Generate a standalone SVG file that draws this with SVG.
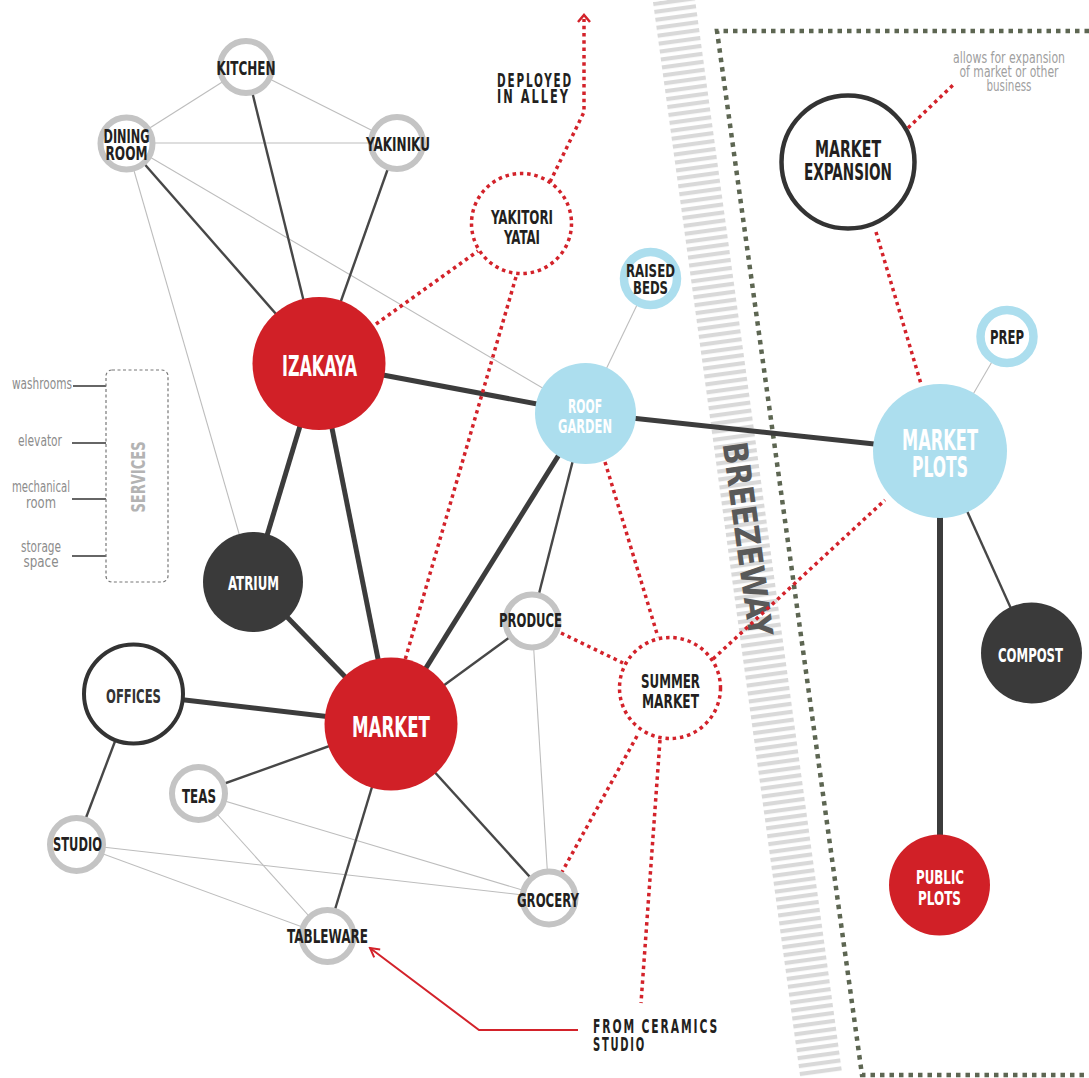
<svg xmlns="http://www.w3.org/2000/svg" width="1089" height="1078" viewBox="0 0 1089 1078">
<defs>
<pattern id="stripes" patternUnits="userSpaceOnUse" width="42" height="8"><rect x="0" y="0" width="42" height="4.2" fill="#d9d9d9"/></pattern>
<marker id="chev" viewBox="0 0 12 12" refX="10" refY="6" markerWidth="12" markerHeight="12" markerUnits="userSpaceOnUse" orient="auto"><path d="M1,1 L10,6 L1,11" fill="none" stroke="#d3222a" stroke-width="2"/></marker>
</defs>
<style>
.lbl{font-family:"Liberation Sans Narrow","DejaVu Sans Condensed","Liberation Sans",sans-serif;font-weight:bold;text-anchor:middle;fill:#231f20}
.w{fill:#ffffff}
.note{font-family:"Liberation Sans Narrow","DejaVu Sans Condensed","Liberation Sans",sans-serif;fill:#8c8c8c;text-anchor:middle}
.thin{stroke:#bdbdbd;stroke-width:1.1;fill:none}
.med{stroke:#474747;stroke-width:2.4;fill:none}
.thick{stroke:#3c3c3c;stroke-width:5;fill:none}
.rdot{stroke:#d3222a;stroke-width:3.5;stroke-dasharray:3.5 3.8;fill:none}
.ring{fill:#ffffff;stroke:#c4c4c4;stroke-width:6}
.bring{fill:#ffffff;stroke:#acdeee;stroke-width:8.5}
.red{fill:#d12027}
.blue{fill:#acdeee}
.dark{fill:#3a3a3a}
.black{fill:#ffffff;stroke:#333333}
.dcirc{fill:#ffffff;stroke:#d3222a;stroke-width:3.5;stroke-dasharray:3.5 3.8}
.sp{text-anchor:start;letter-spacing:3px}
</style>
<rect width="1089" height="1078" fill="#ffffff"/>

<!-- Breezeway band -->
<g id="breezeway" transform="translate(653,2) rotate(-7.8)">
<rect x="0" y="0" width="42" height="1085" fill="url(#stripes)"/>
<text transform="translate(21,545) rotate(90)" y="12" class="lbl" style="fill:#595959" font-size="34" textLength="196" lengthAdjust="spacingAndGlyphs">BREEZEWAY</text>
</g>

<!-- site boundary -->
<polyline id="boundary" points="1089,31 717,31 862,1075 1089,1075" fill="none" stroke="#5d6652" stroke-width="4.5" stroke-dasharray="4.5 5"/>

<!-- connectors -->
<g id="connectors">
<line class="thin" x1="246" y1="67" x2="126" y2="143"/>
<line class="thin" x1="246" y1="67" x2="397" y2="143"/>
<line class="thin" x1="126" y1="143" x2="397" y2="143"/>
<line class="thin" x1="126" y1="143" x2="585" y2="413"/>
<line class="thin" x1="126" y1="143" x2="253" y2="582"/>
<line class="thin" x1="650" y1="278" x2="585" y2="413"/>
<line class="thin" x1="532" y1="621" x2="549" y2="898"/>
<line class="thin" x1="198" y1="793" x2="549" y2="898"/>
<line class="thin" x1="198" y1="793" x2="327" y2="936"/>
<line class="thin" x1="76" y1="844" x2="549" y2="898"/>
<line class="thin" x1="76" y1="844" x2="327" y2="936"/>
<line class="thin" x1="1007" y1="336" x2="940" y2="451"/>

<line class="med" x1="246" y1="67" x2="319" y2="363"/>
<line class="med" x1="126" y1="143" x2="319" y2="363"/>
<line class="med" x1="397" y1="143" x2="319" y2="363"/>
<line class="med" x1="585" y1="413" x2="532" y2="621"/>
<line class="med" x1="391" y1="724" x2="532" y2="621"/>
<line class="med" x1="391" y1="724" x2="198" y2="793"/>
<line class="med" x1="391" y1="724" x2="327" y2="936"/>
<line class="med" x1="391" y1="724" x2="549" y2="898"/>
<line class="med" x1="133" y1="694" x2="76" y2="844"/>
<line class="med" x1="940" y1="451" x2="1031" y2="653"/>

<line class="thick" x1="319" y1="363" x2="585" y2="413"/>
<line class="thick" x1="585" y1="413" x2="940" y2="451"/>
<line class="thick" x1="319" y1="363" x2="253" y2="582"/>
<line class="thick" x1="319" y1="363" x2="391" y2="724"/>
<line class="thick" x1="253" y1="582" x2="391" y2="724"/>
<line class="thick" x1="585" y1="413" x2="391" y2="724"/>
<line class="thick" x1="133" y1="694" x2="391" y2="724"/>
<line class="thick" x1="940" y1="451" x2="940" y2="885" style="stroke-width:6"/>

<line class="rdot" x1="376" y1="324" x2="478" y2="251"/>
<line class="rdot" x1="518" y1="270" x2="405" y2="660"/>
<polyline class="rdot" points="550,182 584,112 584,19"/>
<path d="M578,22 L584,15 L590,22" fill="none" stroke="#d3222a" stroke-width="2.5"/>
<line class="rdot" x1="605" y1="462" x2="658" y2="637"/>
<line class="rdot" x1="561" y1="633" x2="623" y2="663"/>
<line class="rdot" x1="713" y1="659" x2="885" y2="500"/>
<line class="rdot" x1="637" y1="736" x2="562" y2="872"/>
<line class="rdot" x1="660" y1="740" x2="641" y2="1003"/>
<line class="rdot" x1="876" y1="232" x2="921" y2="384"/>
<line class="rdot" x1="908" y1="128" x2="953" y2="85"/>

<polyline points="578,1030 479,1030 370,948" fill="none" stroke="#d3222a" stroke-width="2" marker-end="url(#chev)"/>

<!-- services ties -->
<line x1="73" y1="386" x2="106" y2="386" stroke="#666" stroke-width="2"/>
<line x1="72" y1="443" x2="106" y2="443" stroke="#666" stroke-width="2"/>
<line x1="72" y1="499" x2="106" y2="499" stroke="#666" stroke-width="2"/>
<line x1="72" y1="556" x2="106" y2="556" stroke="#666" stroke-width="2"/>
</g>

<!-- services -->
<g id="services">
<rect x="106" y="370" width="62" height="212" rx="6" fill="none" stroke="#777" stroke-width="1.2" stroke-dasharray="3 2.5"/>
<text transform="translate(137,477) rotate(-90)" y="7.5" class="lbl" style="fill:#b3b3b3" font-size="20" textLength="71" lengthAdjust="spacingAndGlyphs">SERVICES</text>
<text x="42" y="389" class="note" font-size="15" textLength="60" lengthAdjust="spacingAndGlyphs">washrooms</text>
<text x="40" y="446" class="note" font-size="15" textLength="44" lengthAdjust="spacingAndGlyphs">elevator</text>
<text x="41" y="492" class="note" font-size="15" textLength="58" lengthAdjust="spacingAndGlyphs">mechanical</text>
<text x="41" y="508" class="note" font-size="15" textLength="30" lengthAdjust="spacingAndGlyphs">room</text>
<text x="41" y="552" class="note" font-size="15" textLength="40" lengthAdjust="spacingAndGlyphs">storage</text>
<text x="41" y="567" class="note" font-size="15" textLength="35" lengthAdjust="spacingAndGlyphs">space</text>
</g>

<!-- nodes -->
<g id="kitchen"><circle class="ring" cx="246" cy="67" r="26"/><text x="246" y="75" class="lbl" font-size="20" textLength="59" lengthAdjust="spacingAndGlyphs">KITCHEN</text></g>
<g id="dining-room"><circle class="ring" cx="126.5" cy="143.5" r="26"/><text x="126.5" y="143" class="lbl" font-size="19" textLength="46" lengthAdjust="spacingAndGlyphs">DINING</text><text x="126.5" y="160" class="lbl" font-size="19" textLength="42" lengthAdjust="spacingAndGlyphs">ROOM</text></g>
<g id="yakiniku"><circle class="ring" cx="397" cy="143" r="26"/><text x="398" y="151" class="lbl" font-size="20" textLength="64" lengthAdjust="spacingAndGlyphs">YAKINIKU</text></g>
<g id="izakaya"><circle class="red" cx="319" cy="363.5" r="66.5"/><text x="319.5" y="376" class="lbl w" font-size="28" textLength="75" lengthAdjust="spacingAndGlyphs">IZAKAYA</text></g>
<g id="yakitori-yatai"><circle class="dcirc" cx="521.5" cy="223.5" r="50"/><text x="522" y="224" class="lbl" font-size="20" textLength="62" lengthAdjust="spacingAndGlyphs">YAKITORI</text><text x="522" y="244" class="lbl" font-size="20" textLength="36" lengthAdjust="spacingAndGlyphs">YATAI</text></g>
<g id="deployed-note"><text x="497" y="87" class="lbl sp" font-size="19" textLength="76" lengthAdjust="spacingAndGlyphs">DEPLOYED</text><text x="497" y="103" class="lbl sp" font-size="19" textLength="73" lengthAdjust="spacingAndGlyphs">IN ALLEY</text></g>
<g id="raised-beds"><circle class="bring" cx="650.5" cy="278.5" r="26.5"/><text x="650.5" y="277" class="lbl" font-size="18" textLength="49" lengthAdjust="spacingAndGlyphs">RAISED</text><text x="650.5" y="294" class="lbl" font-size="18" textLength="35" lengthAdjust="spacingAndGlyphs">BEDS</text></g>
<g id="roof-garden"><circle class="blue" cx="585.5" cy="413.5" r="50.5"/><text x="585" y="413" class="lbl w" font-size="19" textLength="34" lengthAdjust="spacingAndGlyphs">ROOF</text><text x="585" y="433" class="lbl w" font-size="19" textLength="54" lengthAdjust="spacingAndGlyphs">GARDEN</text></g>
<g id="atrium"><circle class="dark" cx="253" cy="582" r="50"/><text x="253.5" y="590" class="lbl w" font-size="20" textLength="51" lengthAdjust="spacingAndGlyphs">ATRIUM</text></g>
<g id="market"><circle class="red" cx="391" cy="724" r="66.5"/><text x="391" y="737" class="lbl w" font-size="28" textLength="78" lengthAdjust="spacingAndGlyphs">MARKET</text></g>
<g id="offices"><circle class="black" cx="133.5" cy="694" r="49.5" stroke-width="4"/><text x="133.5" y="703" class="lbl" style="fill:#333" font-size="20" textLength="55" lengthAdjust="spacingAndGlyphs">OFFICES</text></g>
<g id="teas"><circle class="ring" cx="198.5" cy="793.5" r="26.5"/><text x="199" y="803" class="lbl" font-size="20" textLength="34" lengthAdjust="spacingAndGlyphs">TEAS</text></g>
<g id="studio"><circle class="ring" cx="76.5" cy="844.5" r="26.5"/><text x="77.5" y="851" class="lbl" font-size="20" textLength="49" lengthAdjust="spacingAndGlyphs">STUDIO</text></g>
<g id="tableware"><circle class="ring" cx="327.5" cy="936" r="26"/><text x="327.5" y="943" class="lbl" font-size="20" textLength="81" lengthAdjust="spacingAndGlyphs">TABLEWARE</text></g>
<g id="produce"><circle class="ring" cx="532" cy="621" r="26.5"/><text x="530.5" y="627" class="lbl" font-size="20" textLength="63" lengthAdjust="spacingAndGlyphs">PRODUCE</text></g>
<g id="summer-market"><circle class="dcirc" cx="670" cy="688" r="50.5"/><text x="670.5" y="688" class="lbl" font-size="20" textLength="59" lengthAdjust="spacingAndGlyphs">SUMMER</text><text x="670.5" y="708" class="lbl" font-size="20" textLength="57" lengthAdjust="spacingAndGlyphs">MARKET</text></g>
<g id="grocery"><circle class="ring" cx="549" cy="898" r="26.5"/><text x="548" y="907" class="lbl" font-size="20" textLength="62" lengthAdjust="spacingAndGlyphs">GROCERY</text></g>
<g id="ceramics-note"><text x="593" y="1033" class="lbl sp" font-size="19" textLength="126" lengthAdjust="spacingAndGlyphs">FROM CERAMICS</text><text x="593" y="1051" class="lbl sp" font-size="19" textLength="53" lengthAdjust="spacingAndGlyphs">STUDIO</text></g>
<g id="market-expansion"><circle class="black" cx="848" cy="162" r="66.5" stroke-width="4.5"/><text x="848" y="157" class="lbl" font-size="23" textLength="66" lengthAdjust="spacingAndGlyphs">MARKET</text><text x="848" y="180" class="lbl" font-size="23" textLength="88" lengthAdjust="spacingAndGlyphs">EXPANSION</text></g>
<g id="expansion-note"><text x="1009" y="63" class="note" style="fill:#a0a0a0" font-size="15" textLength="112" lengthAdjust="spacingAndGlyphs">allows for expansion</text><text x="1009" y="77" class="note" style="fill:#a0a0a0" font-size="15" textLength="99" lengthAdjust="spacingAndGlyphs">of market or other</text><text x="1009" y="91" class="note" style="fill:#a0a0a0" font-size="15" textLength="45" lengthAdjust="spacingAndGlyphs">business</text></g>
<g id="prep"><circle class="bring" cx="1007" cy="336.5" r="26.5"/><text x="1007" y="344" class="lbl" font-size="20" textLength="34" lengthAdjust="spacingAndGlyphs">PREP</text></g>
<g id="market-plots"><circle class="blue" cx="940" cy="451" r="67"/><text x="940" y="450" class="lbl w" font-size="28" textLength="76" lengthAdjust="spacingAndGlyphs">MARKET</text><text x="940" y="477" class="lbl w" font-size="28" textLength="56" lengthAdjust="spacingAndGlyphs">PLOTS</text></g>
<g id="compost"><circle class="dark" cx="1031.5" cy="653" r="50.5"/><text x="1030.5" y="662" class="lbl w" font-size="20" textLength="65" lengthAdjust="spacingAndGlyphs">COMPOST</text></g>
<g id="public-plots"><circle class="red" cx="939.5" cy="885" r="50.5"/><text x="940" y="884" class="lbl w" font-size="20" textLength="48" lengthAdjust="spacingAndGlyphs">PUBLIC</text><text x="939.5" y="905" class="lbl w" font-size="20" textLength="43" lengthAdjust="spacingAndGlyphs">PLOTS</text></g>
</svg>
